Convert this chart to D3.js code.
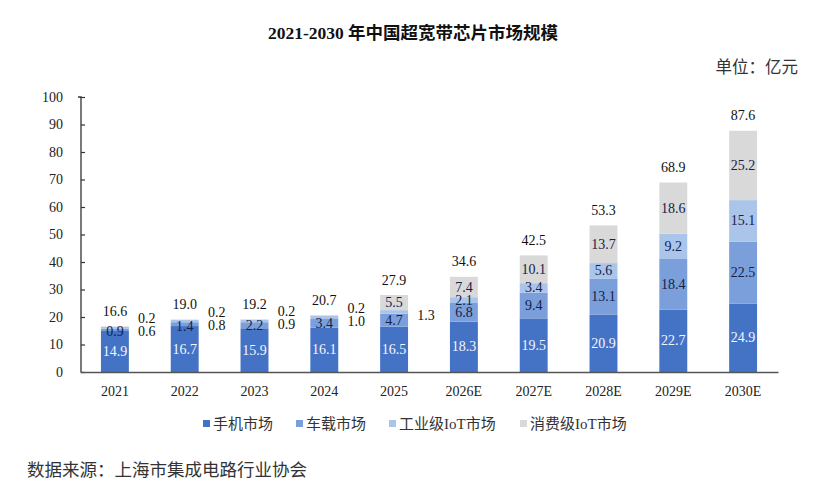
<!DOCTYPE html>
<html>
<head>
<meta charset="utf-8">
<script src="https://cdn.jsdelivr.net/npm/d3@7"></script>
<style>
  html, body { margin: 0; padding: 0; background: #ffffff; }
  svg { display: block; }
  text { font-family: "Liberation Serif", "Noto Sans CJK SC", serif; }
</style>
</head>
<body>
<svg id="chart" width="829" height="500"></svg>
<script>
const categories = ["2021","2022","2023","2024","2025","2026E","2027E","2028E","2029E","2030E"];
const seriesNames = ["手机市场","车载市场","工业级IoT市场","消费级IoT市场"];
const mobile     = [14.9, 16.7, 15.9, 16.1, 16.5, 18.3, 19.5, 20.9, 22.7, 24.9];
const automotive = [0.9, 1.4, 2.2, 3.4, 4.7, 6.8, 9.4, 13.1, 18.4, 22.5];
const industrial = [0.6, 0.8, 0.9, 1.0, 1.3, 2.1, 3.4, 5.6, 9.2, 15.1];
const consumer   = [0.2, 0.2, 0.2, 0.2, 5.5, 7.4, 10.1, 13.7, 18.6, 25.2];
const totals     = [16.6, 19.0, 19.2, 20.7, 27.9, 34.6, 42.5, 53.3, 68.9, 87.6];
const yTicks     = [0,10,20,30,40,50,60,70,80,90,100];
const colors     = ["#4472c4", "#7b9fdb", "#abc5ea", "#d9d9d9"];

const svg = d3.select("#chart");

const x = d3.scaleBand().domain(categories).range([80, 778]).paddingInner(0.6).paddingOuter(0.3);
const y = d3.scaleLinear().domain([0, 100]).range([372, 97]);

const rows = categories.map((c, i) => ({
  cat: c, mobile: mobile[i], automotive: automotive[i], industrial: industrial[i], consumer: consumer[i], total: totals[i]
}));
const keys = ["mobile","automotive","industrial","consumer"];
const stacked = d3.stack().keys(keys)(rows);

// Title
svg.append("text").attr("x", 413).attr("y", 33).attr("text-anchor", "middle")
  .attr("dominant-baseline", "central").attr("font-size", 17.5).attr("font-weight", "bold")
  .attr("fill", "#111").text("2021-2030 年中国超宽带芯片市场规模");

// Unit
svg.append("text").attr("x", 798).attr("y", 67).attr("text-anchor", "end")
  .attr("dominant-baseline", "central").attr("font-size", 16.5).attr("fill", "#333").text("单位：亿元");

// Bars
const layers = svg.append("g").selectAll("g").data(stacked).join("g").attr("fill", (d, i) => colors[i]);
layers.selectAll("rect").data(d => d).join("rect")
  .attr("x", d => x(d.data.cat))
  .attr("width", x.bandwidth())
  .attr("y", d => y(d[1]))
  .attr("height", d => y(d[0]) - y(d[1]));

// Axes
const yAxis = d3.axisLeft(y).tickValues(yTicks).tickSize(-4).tickPadding(18);
const gy = svg.append("g").attr("transform", "translate(81,0)").call(yAxis);
gy.select(".domain").attr("stroke", "#333").attr("stroke-width", 1.3).attr("d", "M-3," + y(100) + "H0V" + y(0));
gy.selectAll(".tick line").attr("stroke", "#333").attr("stroke-width", 1.2);
gy.selectAll(".tick text").attr("font-size", 14).attr("fill", "#222")
  .attr("font-family", "'Liberation Serif', serif");

const xAxis = d3.axisBottom(x).tickSize(0).tickPadding(14);
const gx = svg.append("g").attr("transform", "translate(0,372)").call(xAxis);
gx.select(".domain").attr("stroke", "#555").attr("stroke-width", 1.3);
gx.selectAll(".tick text").attr("font-size", 14).attr("fill", "#222")
  .attr("font-family", "'Liberation Serif', serif");

// Segment labels
const labelG = svg.append("g").attr("font-size", 14).attr("text-anchor", "middle");
stacked.forEach((layer, si) => {
  layer.forEach((d, i) => {
    const v = d.data[keys[si]];
    const cx = x(d.data.cat) + x.bandwidth() / 2;
    const mid = y((d[0] + d[1]) / 2);
    const outside = (si >= 2) && v < 2;
    if (outside) {
      const indMid = y((stacked[2][i][0] + stacked[2][i][1]) / 2) + 4;
      const ly = si === 2 ? indMid : indMid - 13;
      labelG.append("text").attr("x", x(d.data.cat) + x.bandwidth() + 18).attr("y", ly)
        .attr("dominant-baseline", "central").attr("fill", "#111").text(v.toFixed(1));
    } else {
      labelG.append("text").attr("x", cx).attr("y", mid + (si === 1 && v < 1.5 ? 2 : 0))
        .attr("dominant-baseline", "central")
        .attr("fill", si === 0 ? "#f4f7ff" : "#14224a").text(v.toFixed(1));
    }
  });
});

// Total labels
labelG.selectAll(".total").data(rows).join("text").attr("class", "total")
  .attr("x", d => x(d.cat) + x.bandwidth() / 2)
  .attr("y", d => y(d.mobile + d.automotive + d.industrial + d.consumer) - 15)
  .attr("dominant-baseline", "central").attr("fill", "#111")
  .text(d => d.total.toFixed(1));

// Legend
const legendX = [203, 296, 389, 520];
const lg = svg.append("g");
seriesNames.forEach((name, i) => {
  lg.append("rect").attr("x", legendX[i]).attr("y", 420).attr("width", 7).attr("height", 7).attr("fill", colors[i]);
  lg.append("text").attr("x", legendX[i] + 10).attr("y", 424).attr("dominant-baseline", "central")
    .attr("font-size", 15).attr("fill", "#333").text(name);
});

// Source
svg.append("text").attr("x", 27).attr("y", 470).attr("dominant-baseline", "central")
  .attr("font-size", 17.5).attr("fill", "#333").text("数据来源：上海市集成电路行业协会");
</script>
</body>
</html>
